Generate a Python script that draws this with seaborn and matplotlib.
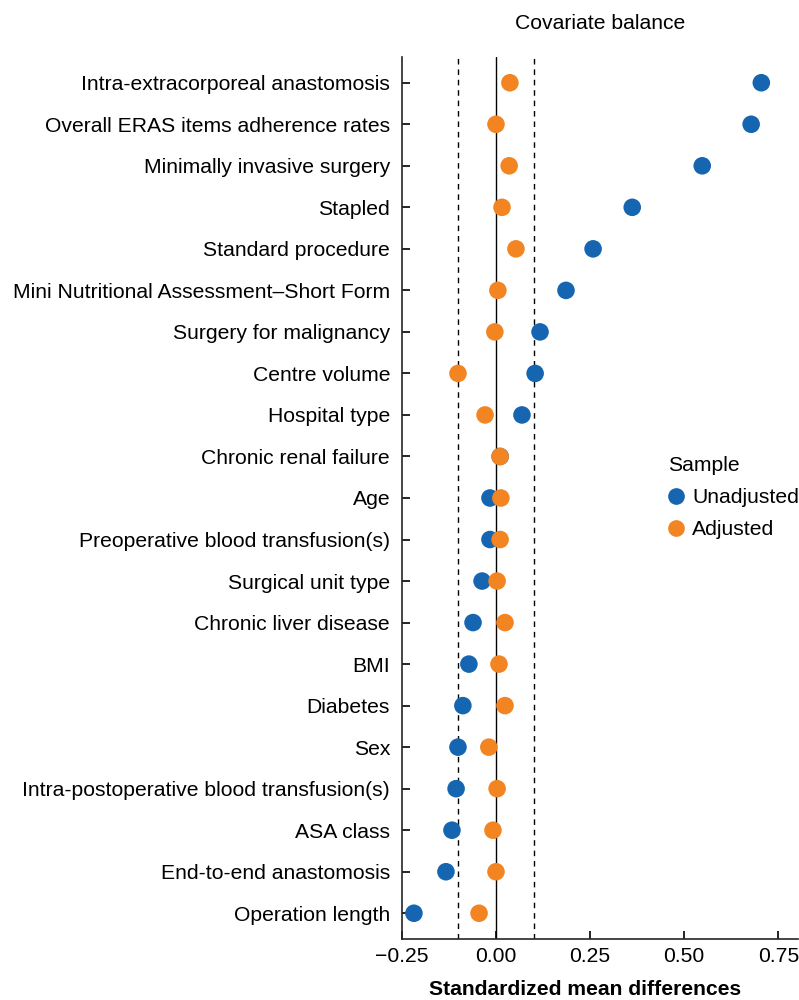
import matplotlib
matplotlib.use("Agg")
import matplotlib.pyplot as plt
import seaborn as sns
import pandas as pd

covariates = [
    "Intra-extracorporeal anastomosis",
    "Overall ERAS items adherence rates",
    "Minimally invasive surgery",
    "Stapled",
    "Standard procedure",
    "Mini Nutritional Assessment\u2013Short Form",
    "Surgery for malignancy",
    "Centre volume",
    "Hospital type",
    "Chronic renal failure",
    "Age",
    "Preoperative blood transfusion(s)",
    "Surgical unit type",
    "Chronic liver disease",
    "BMI",
    "Diabetes",
    "Sex",
    "Intra-postoperative blood transfusion(s)",
    "ASA class",
    "End-to-end anastomosis",
    "Operation length",
]
unadjusted = [0.705, 0.678, 0.548, 0.362, 0.258, 0.186, 0.117, 0.104, 0.069, 0.011,
              -0.016, -0.016, -0.037, -0.061, -0.072, -0.088, -0.101, -0.106, -0.117,
              -0.133, -0.218]
adjusted = [0.037, 0.000, 0.035, 0.016, 0.053, 0.005, -0.003, -0.101, -0.029, 0.011,
            0.013, 0.011, 0.003, 0.024, 0.008, 0.024, -0.019, 0.003, -0.008,
            0.000, -0.045]
samples = ["Unadjusted", "Adjusted"]
colors = ["#1565B0", "#F28522"]
thresholds = [-0.1, 0.1]
xticks = [-0.25, 0.0, 0.25, 0.5, 0.75]

df = pd.DataFrame({
    "Covariate": covariates * 2,
    "SMD": unadjusted + adjusted,
    "Sample": [samples[0]] * len(covariates) + [samples[1]] * len(covariates),
})

sns.set_style("ticks")
plt.rcParams["font.family"] = ["Liberation Sans", "DejaVu Sans"]
plt.rcParams["text.color"] = "black"
plt.rcParams["axes.labelcolor"] = "black"

fs = 15.2
fig = plt.figure(figsize=(7.99, 10.0), dpi=100)
ax = fig.add_axes([0.503, 0.061, 0.496, 0.882])

for t in thresholds:
    ax.axvline(t, color="black", linestyle=(0, (4, 3.5)), linewidth=1.0, zorder=1)
ax.axvline(0, color="black", linewidth=1.0, zorder=1)

sns.scatterplot(data=df, x="SMD", y="Covariate", hue="Sample", hue_order=samples,
                palette=colors, s=160, linewidth=0, ax=ax, zorder=3)

ax.set_xlim(-0.25, 0.803)
ax.set_ylim(len(covariates) - 0.38, -0.62)
ax.set_xticks(xticks)
ax.set_xticklabels(["\u22120.25", "0.00", "0.25", "0.50", "0.75"])
ax.tick_params(axis="both", labelsize=fs, colors="black", labelcolor="black",
               direction="in", length=6, width=1.2)
ax.tick_params(axis="x", pad=6)
ax.tick_params(axis="y", pad=8.5)
ax.set_ylabel("")
ax.set_xlabel("Standardized mean differences", fontsize=fs, fontweight="bold")
ax.xaxis.set_label_coords(0.462, -0.0465)
ax.set_title("Covariate balance", fontsize=fs, pad=20, color="black")
for s in ["top", "right"]:
    ax.spines[s].set_visible(False)
for s in ["left", "bottom"]:
    ax.spines[s].set_linewidth(1.2)

leg = ax.legend(title="Sample", loc="center left",
                bbox_to_anchor=(668 / 799, 1 - 497.5 / 1000),
                bbox_transform=fig.transFigure,
                frameon=False, fontsize=fs, title_fontsize=fs,
                handlelength=0.8, handletextpad=0.35, borderpad=0,
                borderaxespad=0, labelspacing=0.62, markerscale=0.95)
leg._legend_box.align = "left"

fig.savefig("out.png", dpi=100)
